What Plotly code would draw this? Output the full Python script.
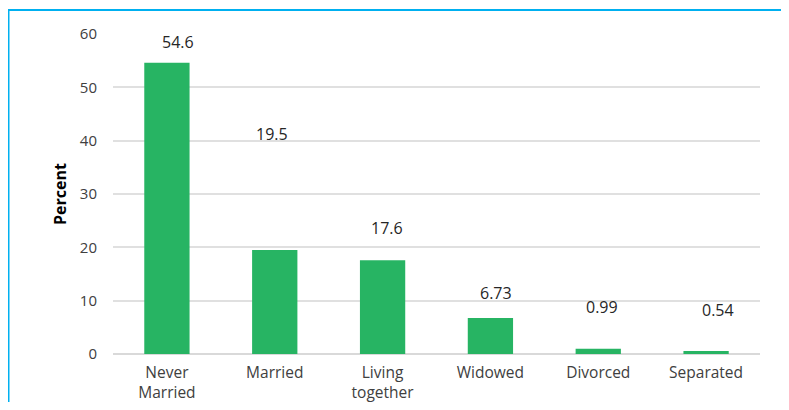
import plotly.graph_objects as go

categories = ["Never<br>Married", "Married", "Living<br>together", "Widowed", "Divorced", "Separated"]
values = [54.6, 19.5, 17.6, 6.73, 0.99, 0.54]
label_text = ["54.6", "19.5", "17.6", "6.73", "0.99", "0.54"]
y_ticks = [0, 10, 20, 30, 40, 50, 60]

# label placement (layout only)
label_y = [58.5, 41.3, 23.7, 11.4, 8.8, 8.2]
label_dx = [11, -3, 4, 6, 4, 12]

W, H = 781, 394
ml, mr, mt, mb = 105, 29, 26, 48
pw, ph = W - ml - mr, H - mt - mb

font = "Open Sans"
txt = "#404040"

fig = go.Figure(go.Bar(
    x=categories, y=values,
    marker=dict(color="#27b463", line=dict(width=0)),
    width=0.42,
))

for c, t, ly, dx in zip(categories, label_text, label_y, label_dx):
    fig.add_annotation(x=c, y=ly, text=t, showarrow=False, xshift=dx,
                       font=dict(family=font, size=16, color="#262626"),
                       xanchor="center", yanchor="middle")

def px_x(p):
    return (p - ml) / pw

def px_y(p):
    return (H - mb - p) / ph

border = "#00b0f0"
fig.add_shape(type="line", xref="paper", yref="paper",
              x0=px_x(0), x1=px_x(W + 10), y0=px_y(2), y1=px_y(2),
              line=dict(color=border, width=2))
fig.add_shape(type="line", xref="paper", yref="paper",
              x0=px_x(0.5), x1=px_x(0.5), y0=px_y(2), y1=px_y(H + 10),
              line=dict(color=border, width=2))

fig.update_layout(
    width=W, height=H,
    margin=dict(l=ml, r=mr, t=mt, b=mb, pad=0),
    paper_bgcolor="white", plot_bgcolor="white",
    showlegend=False,
    font=dict(family=font, size=15, color=txt),
    xaxis=dict(showgrid=False, showline=False, zeroline=False,
               ticks="outside", ticklen=4, tickcolor="rgba(0,0,0,0)",
               automargin=False,
               tickfont=dict(family=font, size=15.5, color=txt)),
    yaxis=dict(range=[0, 60], tickvals=y_ticks, showgrid=True,
               gridcolor="#e0e0e0", gridwidth=1.5,
               zeroline=True, zerolinecolor="#d9d9d9", zerolinewidth=1.5,
               showline=False, ticks="outside", ticklen=12,
               tickcolor="rgba(0,0,0,0)", automargin=False,
               tickfont=dict(family=font, size=15, color=txt),
               title=dict(text="<b>Percent</b>", standoff=9,
                          font=dict(family=font, size=16, color="#000000"))),
)

fig.write_html("out.html")
